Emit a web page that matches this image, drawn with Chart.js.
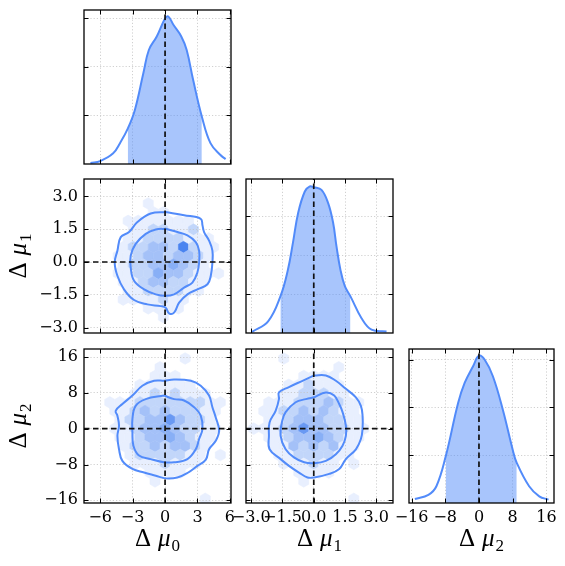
<!DOCTYPE html>
<html>
<head>
<meta charset="utf-8">
<script src="https://cdn.jsdelivr.net/npm/chart.js@4.4.1/dist/chart.umd.min.js"></script>
<style>
  html, body { margin: 0; padding: 0; background: #fff; overflow: hidden; }
  #wrap { position: relative; width: 565px; height: 566px; }
  canvas { position: absolute; left: 0; top: 0; }
</style>
</head>
<body>
<div id="wrap"></div>
<script>
// axis limits / ticks
const mu0Lim = [-7.5, 6.1];
const mu1Lim = [-3.25, 3.8];
const mu2Lim = [-16.6, 17.8];
const mu0Ticks = [-6, -3, 0, 3, 6];
const mu0TickLabels = ['−6', '−3', '0', '3', '6'];
const mu1Ticks = [-3, -1.5, 0, 1.5, 3];
const mu1TickLabels = ['−3.0', '−1.5', '0.0', '1.5', '3.0'];
const mu2Ticks = [-16, -8, 0, 8, 16];
const mu2TickLabels = ['−16', '−8', '0', '8', '16'];
const densTicks = [1, 2, 3];
const dens0Max = 3.175, dens1Max = 3.95, dens2Max = 3.22;

// marginal densities (arbitrary units)
const mu0X = [-6.9, -6.0, -4.8, -4.17, -3.45, -2.8, -2.0, -1.5, -0.77, 0, 0.3, 0.77, 1.5, 2.0, 2.6, 3.4, 4.2, 5.1, 5.6];
const mu0Y = [0.02, 0.06, 0.22, 0.43, 0.73, 1.11, 1.88, 2.35, 2.63, 3.0, 3.04, 2.87, 2.63, 2.35, 1.73, 0.98, 0.43, 0.19, 0.1];
const mu0Band = [-3.45, 3.4];

const mu1X = [-2.96, -2.19, -1.6, -1.24, -1.0, -0.75, -0.43, -0.19, 0, 0.37, 0.69, 0.93, 1.09, 1.28, 1.49, 1.76, 2.29, 2.77, 3.49];
const mu1Y = [0.03, 0.3, 0.94, 1.62, 2.31, 3.08, 3.63, 3.76, 3.74, 3.67, 3.33, 2.82, 2.22, 1.62, 1.2, 0.94, 0.38, 0.085, 0.04];
const mu1Band = [-1.6, 1.76];

const mu2X = [-15.2, -12.0, -10.1, -7.9, -4.95, -3.4, -1.4, 0, 1.33, 3.3, 5.66, 8.0, 8.96, 11.9, 14.3, 16.5];
const mu2Y = [0.084, 0.17, 0.35, 0.97, 2.09, 2.51, 2.86, 3.08, 3.0, 2.65, 1.95, 1.115, 0.84, 0.35, 0.14, 0.07];
const mu2Band = [-7.9, 8.96];

// 2d contours [x, y]
const c01Outer = [[0.06, 2.29], [1.76, 2.14], [3.30, 1.98], [3.46, 1.68], [3.61, 1.37], [4.07, 0.98], [4.38, 0.52], [4.38, -0.02], [4.23, -0.63], [3.92, -1.02], [2.99, -1.25], [2.07, -1.48], [1.30, -1.86], [0.83, -2.32], [0.37, -2.35], [0.06, -2.09], [-0.40, -2.02], [-1.64, -1.94], [-2.87, -1.74], [-3.80, -1.25], [-4.41, -0.63], [-4.66, -0.02], [-4.41, 0.52], [-4.10, 1.14], [-3.33, 1.37], [-2.56, 1.83], [-1.33, 2.22]];
const c01Inner = [[0.06, 1.52], [1.14, 1.37], [2.07, 1.22], [2.84, 0.91], [3.15, 0.52], [3.15, -0.02], [2.99, -0.48], [2.53, -0.94], [1.76, -1.17], [0.83, -1.48], [0.06, -1.55], [-0.86, -1.48], [-1.94, -1.25], [-2.87, -0.86], [-3.18, -0.25], [-3.18, 0.29], [-2.72, 0.83], [-1.79, 1.29], [-0.86, 1.49]];

const c02Outer = [[-0.09, 10.7], [0.83, 11.0], [2.38, 10.7], [3.30, 9.6], [4.07, 7.4], [4.38, 4.8], [4.69, 2.5], [5.0, -0.4], [4.69, -2.7], [4.07, -4.6], [3.77, -6.9], [2.99, -8.3], [2.07, -9.9], [1.14, -10.9], [0.06, -11.1], [-0.86, -10.5], [-1.94, -9.8], [-3.02, -9.0], [-3.95, -7.2], [-4.26, -4.6], [-4.41, -1.6], [-4.26, 0.7], [-4.41, 2.9], [-4.57, 4.0], [-3.95, 5.5], [-3.02, 7.4], [-2.10, 9.6], [-1.02, 10.7]];
const c02Inner = [[-0.09, 7.4], [0.83, 6.6], [1.76, 6.3], [2.69, 4.8], [3.30, 2.9], [3.46, -0.07], [3.15, -2.3], [2.84, -4.6], [2.07, -6.8], [0.83, -7.5], [-0.09, -7.5], [-1.33, -6.8], [-2.41, -6.0], [-2.93, -3.8], [-3.02, -0.8], [-3.02, 2.2], [-2.72, 5.1], [-1.79, 6.6]];

const c12Outer = [[0.02, 11.9], [0.58, 11.9], [1.06, 10.7], [1.54, 8.9], [2.02, 7.0], [2.26, 5.1], [2.34, 2.9], [2.34, -0.07], [2.26, -2.3], [2.02, -4.6], [1.54, -6.8], [1.22, -9.0], [0.74, -10.1], [0.02, -10.9], [-0.30, -10.9], [-0.71, -9.8], [-1.19, -8.3], [-1.59, -6.8], [-2.12, -4.6], [-2.15, -1.6], [-2.12, 1.4], [-1.83, 4.0], [-1.67, 6.6], [-1.67, 8.1], [-1.19, 9.3], [-0.54, 10.7]];
const c12Inner = [[0.02, 7.0], [0.58, 8.1], [0.98, 7.4], [1.22, 5.5], [1.38, 3.7], [1.54, 0.7], [1.54, -1.6], [1.38, -3.8], [1.06, -5.7], [0.58, -7.2], [0.02, -7.7], [-0.46, -7.5], [-0.95, -6.4], [-1.35, -4.6], [-1.59, -1.6], [-1.51, 1.8], [-1.35, 3.7], [-0.87, 5.9], [-0.38, 6.6]];

// hexbin shading levels (0 = empty), rows top -> bottom, odd rows shifted half a cell
const hex01 = [
  '000000000000', '000100000000', '000011000000', '011111110000',
  '001122112000', '011222211100', '012233262110', '112332332100',
  '012233432100', '112243321110', '011233221100', '011222211000',
  '011112110000', '000111100000', '000001000000'
];
const hex01Grid = { x0: -4.81, y0: 3.08, sx: 0.93, ry: 0.4 };
const hex02 = [
  '0000000010000', '0000010000000', '0000011100000', '0001111110000',
  '0001121211100', '1112222222110', '0112323222110', '0122335322100',
  '0112334322110', '0112334321100', '0012232332100', '0012222211010',
  '0001112111000', '0000111100000', '0000010000000', '0000000000000',
  '0000000000100'
];
const hex02Grid = { x0: -5.58, y0: 15.68, sx: 0.93, ry: 1.96 };
const hex12 = [
  '00010000000000', '00000000100000', '00000111100000', '00011211100000',
  '00011222110000', '01112223211000', '01122323211000', '01123332211000',
  '11123533221100', '01123343211000', '00113232311000', '00112222110000',
  '00011121101000', '00001111000000', '00000100000000', '00000000000000',
  '00000000001000'
];
const hex12Grid = { x0: -2.88, y0: 15.68, sx: 0.48, ry: 1.96 };

const LINE = 'rgb(82,139,250)';
const FILL = 'rgba(82,139,250,0.5)';
const HEX_COLORS = [null, '#e8effe', '#c2d6fa', '#a4c1f8', '#88aff6', '#6999f3', '#4a84f0'];
const SERIF = '"Liberation Serif", "DejaVu Serif", serif';
const TICK_FONT = '"DejaVu Serif", serif';
const AXIS_W = 60, AXIS_H = 40;

function pts(xs, ys) { return xs.map((x, i) => ({ x, y: ys[i] })); }
function band(xs, ys, b) {
  return pts(xs, ys).filter(p => p.x >= b[0] && p.x <= b[1]);
}
function loop(arr) { return arr.concat([arr[0]]).map(([x, y]) => ({ x, y })); }

function mathLabel(ctx, sub, cx, cy, rot) {
  ctx.save();
  ctx.translate(cx, cy);
  if (rot) ctx.rotate(-Math.PI / 2);
  const big = '25px ' + SERIF, it = 'italic 25px ' + SERIF, small = '17px ' + SERIF;
  ctx.font = big; const wD = ctx.measureText('Δ').width;
  ctx.font = it; const wM = ctx.measureText('μ').width;
  ctx.font = small; const wS = ctx.measureText(sub).width;
  const gap = 7;
  let x = -(wD + gap + wM + 1 + wS) / 2;
  ctx.fillStyle = '#000';
  ctx.textAlign = 'left';
  ctx.textBaseline = 'alphabetic';
  ctx.font = big; ctx.fillText('Δ', x, 0); x += wD + gap;
  ctx.font = it; ctx.fillText('μ', x, 0); x += wM + 1;
  ctx.font = small; ctx.fillText(sub, x, 5);
  ctx.restore();
}

function decor(cfg) {
  return {
    id: 'decor',
    beforeDraw(chart) {
      if (!cfg.hex) return;
      const { ctx, chartArea: a, scales: { x, y } } = chart;
      const g = cfg.hexGrid;
      ctx.save();
      ctx.beginPath(); ctx.rect(a.left, a.top, a.width, a.height); ctx.clip();
      cfg.hex.forEach((row, r) => {
        for (let k = 0; k < row.length; k++) {
          const lv = +row[k];
          if (!lv) continue;
          const cx = g.x0 + k * g.sx + (r % 2 ? g.sx / 2 : 0);
          const cy = g.y0 - r * g.ry;
          const px = x.getPixelForValue(cx), py = y.getPixelForValue(cy);
          const hw = Math.abs(x.getPixelForValue(cx + g.sx / 2) - px);
          const hh = Math.abs(y.getPixelForValue(cy + g.ry / 3) - py);
          ctx.beginPath();
          ctx.moveTo(px, py - 2 * hh);
          ctx.lineTo(px + hw, py - hh);
          ctx.lineTo(px + hw, py + hh);
          ctx.lineTo(px, py + 2 * hh);
          ctx.lineTo(px - hw, py + hh);
          ctx.lineTo(px - hw, py - hh);
          ctx.closePath();
          ctx.fillStyle = HEX_COLORS[lv];
          ctx.strokeStyle = HEX_COLORS[lv];
          ctx.lineWidth = 0.6;
          ctx.fill(); ctx.stroke();
        }
      });
      ctx.restore();
    },
    afterDatasetsDraw(chart) {
      const { ctx, chartArea: a, scales: { x, y } } = chart;
      ctx.save();
      ctx.strokeStyle = '#111';
      ctx.lineWidth = 1.7;
      ctx.setLineDash([5.5, 3.5]);
      const px = x.getPixelForValue(0);
      ctx.beginPath(); ctx.moveTo(px, a.bottom); ctx.lineTo(px, a.top); ctx.stroke();
      if (cfg.hline) {
        const py = y.getPixelForValue(0);
        ctx.beginPath(); ctx.moveTo(a.left, py); ctx.lineTo(a.right, py); ctx.stroke();
      }
      ctx.restore();
    },
    afterDraw(chart) {
      const { ctx, chartArea: a, scales: { x, y } } = chart;
      ctx.save();
      ctx.strokeStyle = '#000';
      ctx.lineWidth = 1;
      ctx.beginPath();
      cfg.xTicks.forEach(v => {
        const p = Math.round(x.getPixelForValue(v)) + 0.5;
        ctx.moveTo(p, a.bottom); ctx.lineTo(p, a.bottom - 4.5);
        ctx.moveTo(p, a.top); ctx.lineTo(p, a.top + 4.5);
      });
      cfg.yTicks.forEach(v => {
        const p = Math.round(y.getPixelForValue(v)) + 0.5;
        ctx.moveTo(a.left, p); ctx.lineTo(a.left + 4.5, p);
        ctx.moveTo(a.right, p); ctx.lineTo(a.right - 4.5, p);
      });
      ctx.stroke();
      ctx.lineWidth = 1.3;
      ctx.strokeRect(a.left, a.top, a.width, a.height);
      ctx.restore();
      if (cfg.xLabel) mathLabel(ctx, cfg.xLabel, (a.left + a.right) / 2, 546, false);
      if (cfg.yLabel) mathLabel(ctx, cfg.yLabel, 26, (a.top + a.bottom) / 2, true);
    }
  };
}

function axis(lim, ticks, labels, show, pos) {
  return {
    type: 'linear',
    position: pos,
    min: lim[0],
    max: lim[1],
    afterBuildTicks: s => { s.ticks = ticks.map(v => ({ value: v })); },
    afterFit: s => { if (pos === 'bottom') s.height = AXIS_H; else s.width = AXIS_W; },
    grid: { color: '#c4c4c4', lineWidth: 0.8, drawTicks: false },
    border: { display: false, dash: [1.2, 2] },
    ticks: {
      display: show,
      autoSkip: false,
      maxRotation: 0,
      minRotation: 0,
      padding: pos === 'bottom' ? 5 : 6,
      color: '#000',
      font: { family: TICK_FONT, size: 16 },
      callback: (v, i) => labels ? labels[i] : ''
    }
  };
}

function makePanel(box, type, datasets, xs, ys, cfg) {
  const c = document.createElement('canvas');
  c.width = 565; c.height = 566;
  document.getElementById('wrap').appendChild(c);
  return new Chart(c, {
    type,
    data: { datasets },
    options: {
      responsive: false,
      animation: false,
      events: [],
      layout: { padding: { left: box[0] - AXIS_W, top: box[1], right: 565 - box[2], bottom: 566 - box[3] - AXIS_H } },
      plugins: { legend: { display: false }, tooltip: { enabled: false } },
      scales: { x: xs, y: ys }
    },
    plugins: [decor(cfg)]
  });
}

function densitySets(xs, ys, b) {
  return [
    { data: band(xs, ys, b), fill: 'origin', backgroundColor: FILL, borderWidth: 0, pointRadius: 0, tension: 0.4 },
    { data: pts(xs, ys), fill: false, borderColor: LINE, borderWidth: 2, pointRadius: 0, tension: 0.4 }
  ];
}
function contourSets(outer, inner) {
  return [outer, inner].map(c => ({
    data: loop(c), showLine: true, fill: false, borderColor: LINE, borderWidth: 2, pointRadius: 0, tension: 0.4
  }));
}

// row 1: mu0 marginal
makePanel([84, 10, 231, 164], 'line', densitySets(mu0X, mu0Y, mu0Band),
  axis(mu0Lim, mu0Ticks, null, false, 'bottom'), axis([0, dens0Max], densTicks, null, false, 'left'),
  { xTicks: mu0Ticks, yTicks: densTicks });

// row 2
makePanel([84, 179, 231, 333], 'scatter', contourSets(c01Outer, c01Inner),
  axis(mu0Lim, mu0Ticks, null, false, 'bottom'), axis(mu1Lim, mu1Ticks, mu1TickLabels, true, 'left'),
  { xTicks: mu0Ticks, yTicks: mu1Ticks, hex: hex01, hexGrid: hex01Grid, hline: true, yLabel: '1' });
makePanel([246, 179, 393, 333], 'line', densitySets(mu1X, mu1Y, mu1Band),
  axis(mu1Lim, mu1Ticks, null, false, 'bottom'), axis([0, dens1Max], densTicks, null, false, 'left'),
  { xTicks: mu1Ticks, yTicks: densTicks });

// row 3
makePanel([84, 349, 231, 503], 'scatter', contourSets(c02Outer, c02Inner),
  axis(mu0Lim, mu0Ticks, mu0TickLabels, true, 'bottom'), axis(mu2Lim, mu2Ticks, mu2TickLabels, true, 'left'),
  { xTicks: mu0Ticks, yTicks: mu2Ticks, hex: hex02, hexGrid: hex02Grid, hline: true, xLabel: '0', yLabel: '2' });
makePanel([246, 349, 393, 503], 'scatter', contourSets(c12Outer, c12Inner),
  axis(mu1Lim, mu1Ticks, mu1TickLabels, true, 'bottom'), axis(mu2Lim, mu2Ticks, null, false, 'left'),
  { xTicks: mu1Ticks, yTicks: mu2Ticks, hex: hex12, hexGrid: hex12Grid, hline: true, xLabel: '1' });
makePanel([409, 349, 554, 503], 'line', densitySets(mu2X, mu2Y, mu2Band),
  axis(mu2Lim, mu2Ticks, mu2TickLabels, true, 'bottom'), axis([0, dens2Max], densTicks, null, false, 'left'),
  { xTicks: mu2Ticks, yTicks: densTicks, xLabel: '2' });
</script>
</body>
</html>
